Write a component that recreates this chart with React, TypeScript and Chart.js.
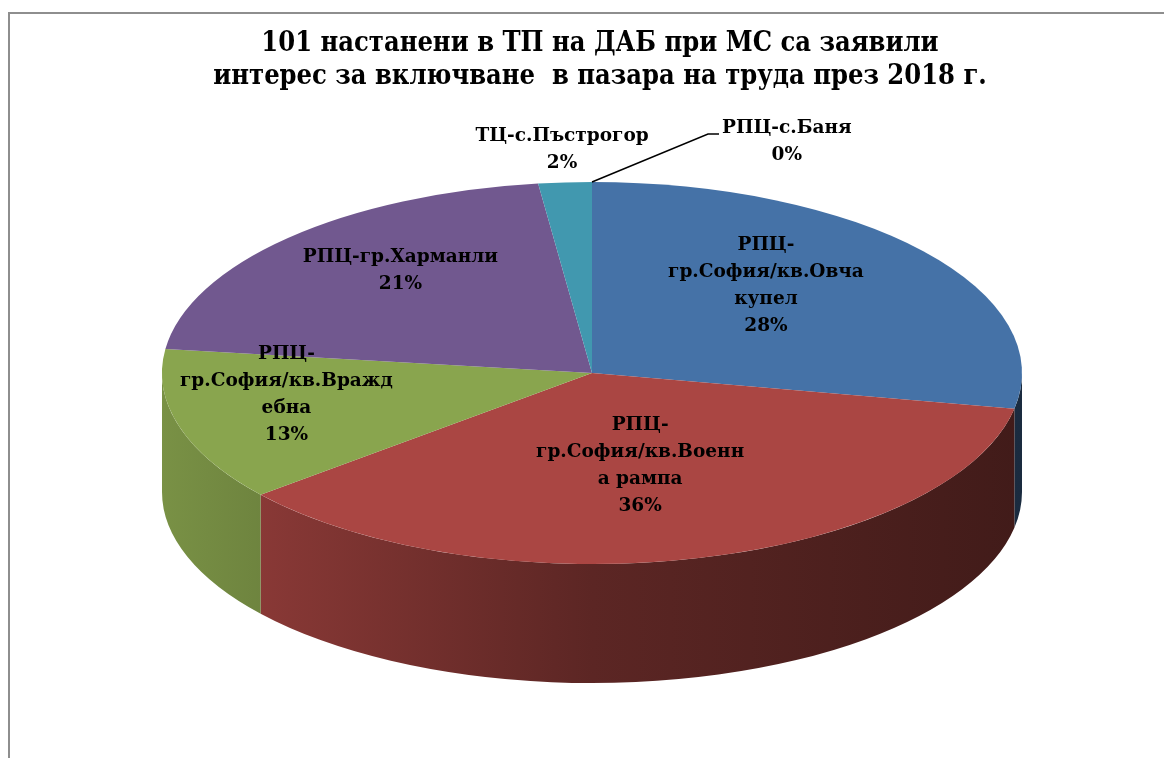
import React, { useEffect, useRef } from "react";
import { Chart, registerables } from "chart.js";

Chart.register(...registerables);

// ---------- data ----------
const TITLE_LINES = [
  "101 настанени в ТП на ДАБ при МС са заявили",
  "интерес за включване  в пазара на труда през 2018 г.",
];
const CATEGORIES = [
  "РПЦ-гр.София/кв.Овча купел",
  "РПЦ-гр.София/кв.Военна рампа",
  "РПЦ-гр.София/кв.Враждебна",
  "РПЦ-гр.Харманли",
  "ТЦ-с.Пъстрогор",
  "РПЦ-с.Баня",
];
// category names as wrapped in the data labels
const LABEL_LINES = [
  ["РПЦ-", "гр.София/кв.Овча", "купел"],
  ["РПЦ-", "гр.София/кв.Военн", "а рампа"],
  ["РПЦ-", "гр.София/кв.Вражд", "ебна"],
  ["РПЦ-гр.Харманли"],
  ["ТЦ-с.Пъстрогор"],
  ["РПЦ-с.Баня"],
];
const VALUES = [28, 36, 13, 21, 2, 0];
const COLORS = ["#4572A7", "#AA4643", "#89A54E", "#71588F", "#4198AF", "#DB843D"];

// ---------- layout / style ----------
const GEOM = { cx: 592, cy: 373, rx: 430, ry: 191, depth: 119 };
// label anchor as fraction of the ellipse radii along each slice's mid angle
const LABEL_FRAC = [
  [0.525, 0.72],
  [0.45, 0.5],
  [0.74, 0.41],
  [0.63, 0.76],
  [1.11, 1.17],
  [0, 0],
];
const LABEL_FONT = "bold 18.5px 'DejaVu Serif'";
const TITLE_FONT = "bold 27px 'DejaVu Serif Condensed', 'DejaVu Serif'";
const LINE_H = 27;

function shade(hex: string, f: number) {
  const n = parseInt(hex.slice(1), 16);
  const r = Math.round(((n >> 16) & 255) * f);
  const g = Math.round(((n >> 8) & 255) * f);
  const b = Math.round((n & 255) * f);
  return `rgb(${r},${g},${b})`;
}

const pie3d = {
  id: "pie3d",
  beforeDraw(chart: any) {
    const ctx = chart.ctx;
    ctx.save();
    ctx.fillStyle = "#ffffff";
    ctx.fillRect(0, 0, chart.width, chart.height);
    ctx.fillStyle = "#8e8e8e";
    ctx.fillRect(8, 12, chart.width - 8, 2);
    ctx.fillRect(8, 12, 2, chart.height - 12);
    // title
    ctx.fillStyle = "#000";
    ctx.font = TITLE_FONT;
    ctx.textAlign = "center";
    ctx.textBaseline = "alphabetic";
    ctx.fillText(TITLE_LINES[0], 600, 51);
    ctx.fillText(TITLE_LINES[1], 600, 84);
    ctx.restore();
  },
  beforeDatasetsDraw(chart: any) {
    const ctx = chart.ctx;
    const meta = chart.getDatasetMeta(0);
    const arcs = meta.data;
    const { cx, cy, rx, ry, depth } = GEOM;
    // side walls (front half only)
    ctx.save();
    arcs.forEach((arc: any, i: number) => {
      const s = Math.max(arc.startAngle, 0);
      const e = Math.min(arc.endAngle, Math.PI);
      if (e <= s) return;
      const col = COLORS[i];
      const grad = ctx.createLinearGradient(cx - rx, 0, cx + rx, 0);
      grad.addColorStop(0, shade(col, 0.88));
      grad.addColorStop(0.5, shade(col, 0.54));
      grad.addColorStop(1, shade(col, 0.38));
      ctx.fillStyle = grad;
      ctx.beginPath();
      ctx.ellipse(cx, cy, rx, ry, 0, s, e, false);
      ctx.ellipse(cx, cy + depth, rx, ry, 0, e, s, true);
      ctx.closePath();
      ctx.fill();
    });
    ctx.restore();
    // flatten the pie top
    const a0 = arcs[0];
    const R = a0.outerRadius;
    ctx.save();
    ctx.translate(cx, cy);
    ctx.scale(rx / R, ry / R);
    ctx.translate(-a0.x, -a0.y);
  },
  afterDatasetsDraw(chart: any) {
    const ctx = chart.ctx;
    ctx.restore();
    const meta = chart.getDatasetMeta(0);
    const arcs = meta.data;
    const { cx, cy, rx, ry } = GEOM;
    const total = VALUES.reduce((a, b) => a + b, 0);
    ctx.save();
    ctx.font = LABEL_FONT;
    ctx.fillStyle = "#000";
    ctx.textAlign = "center";
    ctx.textBaseline = "middle";
    arcs.forEach((arc: any, i: number) => {
      const pct = Math.round((VALUES[i] / total) * 100) + "%";
      const lines = [...LABEL_LINES[i], pct];
      const mid = (arc.startAngle + arc.endAngle) / 2;
      let x: number, y: number;
      if (VALUES[i] === 0) {
        const ax = cx + rx * Math.cos(mid);
        const ay = cy + ry * Math.sin(mid);
        const bx = ax + 116;
        const by = ay - 48;
        const ex = bx + 11;
        ctx.strokeStyle = "#000";
        ctx.lineWidth = 1.5;
        ctx.beginPath();
        ctx.moveTo(ax, ay);
        ctx.lineTo(bx, by);
        ctx.lineTo(ex, by);
        ctx.stroke();
        const w = Math.max(...lines.map((l) => ctx.measureText(l).width));
        x = ex + 3 + w / 2;
        y = by + 8;
      } else {
        const [fx, fy] = LABEL_FRAC[i];
        x = cx + rx * fx * Math.cos(mid);
        y = cy + ry * fy * Math.sin(mid);
      }
      const top = y - ((lines.length - 1) * LINE_H) / 2;
      lines.forEach((l, k) => ctx.fillText(l, x, top + k * LINE_H));
    });
    ctx.restore();
  },
};

export default function App() {
  const ref = useRef<HTMLCanvasElement | null>(null);
  useEffect(() => {
    document.body.style.margin = "0";
    const chart = new Chart(ref.current as HTMLCanvasElement, {
      type: "pie",
      data: {
        labels: CATEGORIES,
        datasets: [
          {
            data: VALUES,
            backgroundColor: COLORS,
            borderWidth: 0,
            clip: false as any,
          },
        ],
      },
      options: {
        responsive: false,
        animation: false,
        devicePixelRatio: 1,
        events: [],
        layout: { padding: 60 },
        plugins: {
          legend: { display: false },
          tooltip: { enabled: false },
          title: { display: false },
        },
      },
      plugins: [pie3d],
    });
    return () => chart.destroy();
  }, []);
  return <canvas ref={ref} width={1164} height={758} style={{ display: "block" }} />;
}
